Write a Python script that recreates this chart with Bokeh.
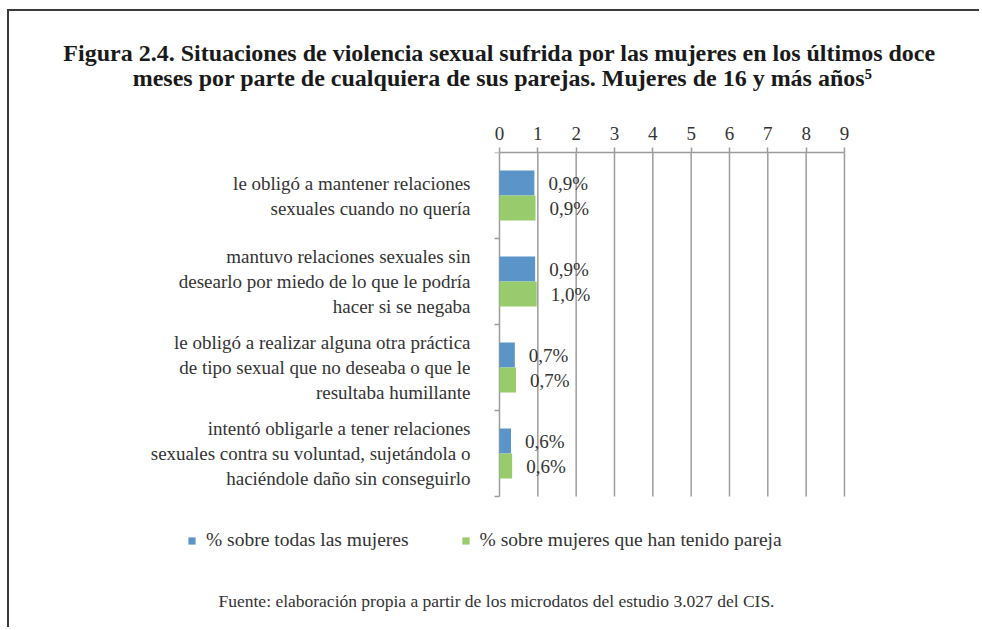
from bokeh.plotting import figure
from bokeh.layouts import column
from bokeh.models import (Range1d, FixedTicker, LabelSet, Label, ColumnDataSource,
                          Legend, LegendItem)
from bokeh.core.properties import value
from bokeh.embed import file_html
from bokeh.resources import INLINE

# ---------------- data ----------------
categories = [
    "le obligó a mantener relaciones\nsexuales cuando no quería",
    "mantuvo relaciones sexuales sin\ndesearlo por miedo de lo que le podría\nhacer si se negaba",
    "le obligó a realizar alguna otra práctica\nde tipo sexual que no deseaba o que le\nresultaba humillante",
    "intentó obligarle a tener relaciones\nsexuales contra su voluntad, sujetándola o\nhaciéndole daño sin conseguirlo",
]
series_names = ["% sobre todas las mujeres", "% sobre mujeres que han tenido pareja"]
todas = [0.91, 0.93, 0.40, 0.30]
pareja = [0.94, 0.97, 0.43, 0.33]
todas_labels = ["0,9%", "0,9%", "0,7%", "0,6%"]
pareja_labels = ["0,9%", "1,0%", "0,7%", "0,6%"]
x_ticks = [0, 1, 2, 3, 4, 5, 6, 7, 8, 9]
title_lines = [
    "Figura 2.4.  Situaciones de violencia sexual sufrida por las mujeres en los últimos doce",
    "meses por parte de cualquiera de sus parejas. Mujeres de 16 y más años⁵",
]
source_note = "Fuente: elaboración propia a partir de los microdatos del estudio 3.027 del CIS."

# ---------------- style / geometry ----------------
BLUE = "#5A94C8"
GREEN = "#97CB6B"
GRID = "#9c9c9c"
TXT = "#333333"
FONT = "Liberation Serif"
FS = "19px"
W, H = 970, 616
HT = 100                            # height of the title strip
FIG_LEFT, FIG_TOP = 9, 11          # page position of the canvas
MB_LEFT = 12                        # left border of the chart frame
PX, PY = 38.33, 86.0               # pixels per data unit
ZERO_X, ZERO_Y = 499, 152          # page position of x=0 / y=0
BAR_H = 25 / PY
LINE_H = 25 / PY

# ---------------- title strip ----------------
t = figure(width=W, height=HT, x_range=Range1d(0, W), y_range=Range1d(HT, 0),
           output_backend="svg", toolbar_location=None,
           x_axis_location=None, y_axis_location=None, min_border=0)
t.outline_line_color = None
t.grid.visible = False
t.background_fill_color = "white"
t.border_fill_color = "white"
t.text(x=[496 - FIG_LEFT] * 2, y=[52 - FIG_TOP, 77 - FIG_TOP], text=title_lines,
       text_align="center", text_baseline="middle", text_font=value(FONT),
       text_font_style="bold", text_font_size=value("24px"), text_color="#1a1a1a")

# ---------------- chart ----------------
H2 = H - HT
MB_TOP = ZERO_Y - (FIG_TOP + HT)
frame_left = FIG_LEFT + MB_LEFT
frame_bottom = FIG_TOP + H
x_start = -(ZERO_X - frame_left) / PX
x_end = x_start + (W - MB_LEFT) / PX
y_start = (frame_bottom - ZERO_Y) / PY

p = figure(width=W, height=H2, x_range=Range1d(x_start, x_end),
           y_range=Range1d(y_start, 0),
           output_backend="svg", toolbar_location=None, x_axis_location="above",
           y_axis_location=None,
           min_border_left=MB_LEFT, min_border_right=0, min_border_top=MB_TOP,
           min_border_bottom=0)
p.outline_line_color = None
p.background_fill_color = "white"
p.border_fill_color = "white"
p.grid.visible = False

# x axis (top)
p.xaxis.ticker = FixedTicker(ticks=x_ticks)
p.xaxis.bounds = (x_ticks[0], x_ticks[-1])
p.xaxis.major_tick_out = 5
p.xaxis.major_tick_in = 0
p.xaxis.minor_tick_line_color = None
p.xaxis.axis_line_color = GRID
p.xaxis.axis_line_width = 1.5
p.xaxis.major_tick_line_color = GRID
p.xaxis.major_tick_line_width = 1.5
p.xaxis.major_label_text_font = FONT
p.xaxis.major_label_text_font_size = FS
p.xaxis.major_label_text_color = TXT
p.xaxis.major_label_standoff = 8

n_cat = len(categories)
centers = [i + 0.5 for i in range(n_cat)]
bounds = list(range(n_cat + 1))

# vertical grid lines (also the category axis line at 0)
p.segment(x0=x_ticks, x1=x_ticks, y0=[bounds[0]] * len(x_ticks),
          y1=[bounds[-1]] * len(x_ticks), line_color=GRID, line_width=1.5)
# category separator ticks
p.segment(x0=[-5 / PX] * len(bounds), x1=[0] * len(bounds), y0=bounds, y1=bounds,
          line_color=GRID, line_width=1.5)

# category labels, one row per line, right-aligned left of the axis
cx, cy, ct = [], [], []
for c, cat in zip(centers, categories):
    lines = cat.split("\n")
    n = len(lines)
    for j, line in enumerate(lines):
        cx.append(-29 / PX)
        cy.append(c + (j - (n - 1) / 2) * LINE_H)
        ct.append(line)
p.text(x=cx, y=cy, text=ct, text_align="right", text_baseline="middle",
       text_font=value(FONT), text_font_size=value(FS), text_color=TXT)

# bars
src_b = ColumnDataSource(dict(y=[c - BAR_H / 2 for c in centers], v=todas, lab=todas_labels))
src_g = ColumnDataSource(dict(y=[c + BAR_H / 2 for c in centers], v=pareja, lab=pareja_labels))
r1 = p.hbar(y="y", left=0, right="v", height=BAR_H, source=src_b,
            fill_color=BLUE, line_color=None)
r2 = p.hbar(y="y", left=0, right="v", height=BAR_H, source=src_g,
            fill_color=GREEN, line_color=None)

for s in (src_b, src_g):
    p.add_layout(LabelSet(x="v", y="y", text="lab", source=s, x_offset=14,
                          text_baseline="middle", text_align="left",
                          text_font=FONT, text_font_size=FS, text_color=TXT))

# legend
legend = Legend(items=[LegendItem(label=series_names[0], renderers=[r1]),
                       LegendItem(label=series_names[1], renderers=[r2])],
                orientation="horizontal",
                location=(187 - frame_left, frame_bottom - 551),
                glyph_width=9, glyph_height=9, label_standoff=10, spacing=52,
                padding=0, margin=0, border_line_color=None,
                background_fill_alpha=0, label_height=18,
                label_text_font=FONT, label_text_font_size="19.5px",
                label_text_color=TXT)
p.add_layout(legend)

# source note
p.add_layout(Label(x=(496 - ZERO_X) / PX, y=(600 - ZERO_Y) / PY, text=source_note,
                   text_align="center", text_baseline="middle", text_font=FONT,
                   text_font_size="17.5px", text_color=TXT))

layout = column(t, p, spacing=0)
layout.styles = {"margin-left": "7px", "margin-top": "9px",
                 "border-top": "2px solid #3a3a3a", "border-left": "2px solid #3a3a3a"}

open("out.html", "w").write(file_html(layout, INLINE))
